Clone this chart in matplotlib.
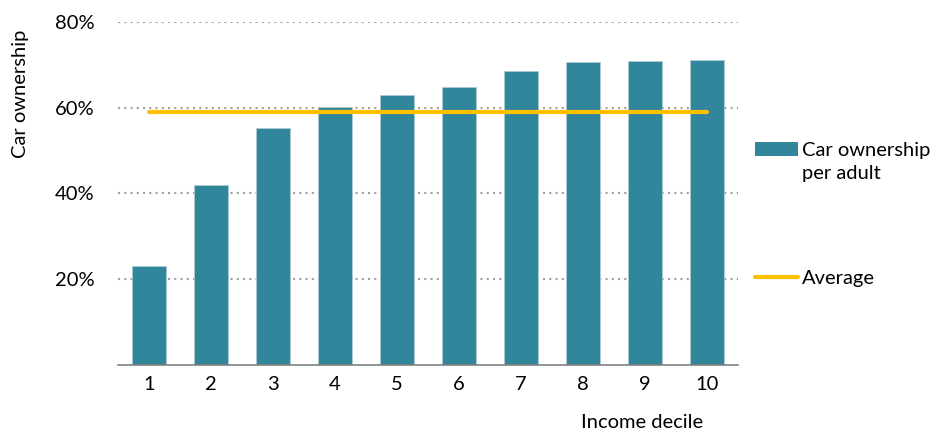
import numpy as np
import matplotlib
matplotlib.use('Agg')
import matplotlib.pyplot as plt
from matplotlib.patches import Patch
from matplotlib.lines import Line2D

plt.rcParams['font.family'] = ['Lato', 'DejaVu Sans']

# Data
deciles = ['1', '2', '3', '4', '5', '6', '7', '8', '9', '10']
ownership = [23.1, 42.0, 55.3, 60.2, 63.0, 64.9, 68.6, 70.7, 70.9, 71.2]
average = 59.0
yticks = [20, 40, 60, 80]

bar_color = '#31869B'
avg_color = '#FFC000'
fs = 14.5

fig = plt.figure(figsize=(9.39, 4.30), dpi=100)
ax = fig.add_axes([0.1257, 0.151, 0.6603, 0.798])

x = np.arange(1, len(deciles) + 1)
ax.bar(x, ownership, width=0.56, color=bar_color, edgecolor='#A9CCD6',
       linewidth=0.6, zorder=2)
ax.plot([x[0], x[-1]], [average, average], color=avg_color, linewidth=3,
        solid_capstyle='round', zorder=3)

ax.set_xlim(0.5, len(deciles) + 0.5)
ax.set_ylim(0, 80)
ax.set_xticks(x)
ax.set_xticklabels(deciles)
ax.set_yticks(yticks)
ax.set_yticklabels([f'{v}%' for v in yticks])
ax.tick_params(axis='both', length=0, labelsize=fs, colors='#000000')
ax.tick_params(axis='x', pad=8)
ax.tick_params(axis='y', pad=17)

for v in yticks:
    ax.axhline(v, color='#A0A0A0', linewidth=1.5, linestyle=(0, (1, 2)), zorder=1)

for s in ['top', 'right', 'left']:
    ax.spines[s].set_visible(False)
ax.spines['bottom'].set_color('#808080')
ax.spines['bottom'].set_linewidth(1.2)

ax.set_ylabel('Car ownership', fontsize=fs)
ax.yaxis.set_label_coords(-0.143, 0.79)
fig.text(642 / 939, 1 - 422 / 430, 'Income decile', fontsize=fs,
         ha='center', va='center')

# Legend: two separate blocks placed like the original
fig.legend(handles=[Patch(facecolor=bar_color)],
           labels=['Car ownership'],
           loc='upper left', bbox_to_anchor=(755 / 939, 1 - 142 / 430),
           frameon=False, fontsize=fs, handlelength=2.15, handleheight=0.65,
           handletextpad=0.2, borderpad=0, borderaxespad=0)
fig.text(802 / 939, 1 - 174 / 430, 'per adult', fontsize=fs,
         ha='left', va='center')
fig.legend(handles=[Line2D([], [], color=avg_color, linewidth=3,
                           solid_capstyle='round')],
           labels=['Average'],
           loc='upper left', bbox_to_anchor=(755 / 939, 1 - 270 / 430),
           frameon=False, fontsize=fs, handlelength=2.15,
           handletextpad=0.2, borderpad=0, borderaxespad=0)

fig.savefig('out.png', dpi=100)
